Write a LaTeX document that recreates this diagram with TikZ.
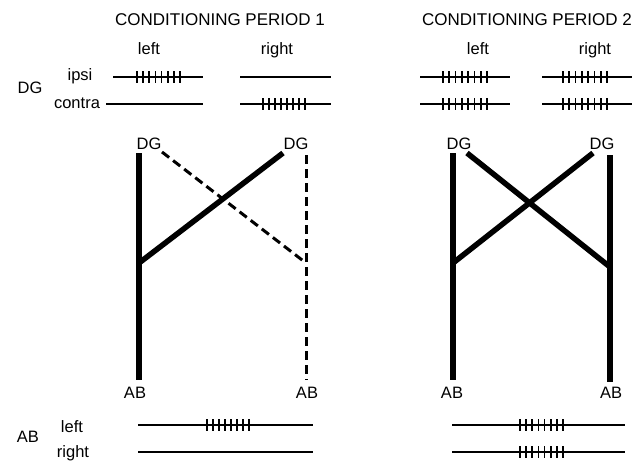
\documentclass[tikz,border=0pt]{standalone}
\usepackage{fontspec}
\setmainfont{Liberation Sans}
\begin{document}
\begin{tikzpicture}[x=1pt,y=-1pt,
  lbl/.style={inner sep=0pt,font=\fontsize{16.5}{18}\selectfont},
  ttl/.style={inner sep=0pt,font=\fontsize{17}{19}\selectfont},
  trace/.style={line width=1.2pt},
  tickline/.style={line width=1.6pt},
  thickpath/.style={line width=5.5pt},
  dashpath/.style={line width=3pt,dash pattern=on 9pt off 5pt}]
\useasboundingbox (0,0) rectangle (643,463);
% titles
\node[ttl] (t1) at (220,20) {CONDITIONING PERIOD 1};
\node[ttl] (t2) at (527,20) {CONDITIONING PERIOD 2};
\node[lbl] (h1l) at (149,49) {left};
\node[lbl] (h1r) at (277,50) {right};
\node[lbl] (h2l) at (478,49) {left};
\node[lbl] (h2r) at (595,50) {right};
% DG row labels
\node[lbl] (dg) at (30,88) {DG};
\node[lbl] (ipsi) at (80,76) {ipsi};
\node[lbl] (contra) at (77,103) {contra};
% AB row labels
\node[lbl] (ab) at (28,437) {AB};
\node[lbl] (abl) at (72,427) {left};
\node[lbl] (abr) at (73,453) {right};
% spike trains (DG)
\newcommand{\spikes}[3]{% x start, x end, y
  \foreach \k in {0,...,7} {\draw[tickline] ({#1+\k*(#2-#1)/7},#3-6) -- ({#1+\k*(#2-#1)/7},#3+6);}}
\draw[trace] (113,77) -- (203,77); \spikes{137}{180}{77}
\draw[trace] (106,104) -- (203,104);
\draw[trace] (240,77) -- (331,77);
\draw[trace] (240,104) -- (331,104); \spikes{263}{305}{104}
\draw[trace] (420,77) -- (510,77); \spikes{443}{487}{77}
\draw[trace] (542,77) -- (632,77); \spikes{563}{607}{77}
\draw[trace] (420,104) -- (510,104); \spikes{443}{487}{104}
\draw[trace] (542,104) -- (632,104); \spikes{563}{607}{104}
% spike trains (AB)
\draw[trace] (138,425) -- (313,425); \spikes{207}{249}{425}
\draw[trace] (138,452) -- (313,452);
\draw[trace] (452,425) -- (625,425); \spikes{520}{563}{425}
\draw[trace] (452,452) -- (625,452); \spikes{520}{563}{452}
% panel 1 circuit
\node[lbl] (dg1l) at (149,144) {DG};
\node[lbl] (dg1r) at (296,144) {DG};
\node[lbl] (ab1l) at (135,393) {AB};
\node[lbl] (ab1r) at (307,393) {AB};
\coordinate (p1lt) at (139,153);
\coordinate (p1lj) at (139,263);
\coordinate (p1lb) at (139,380);
\coordinate (p1rt) at (306,155);
\coordinate (p1rj) at (306,263);
\coordinate (p1rb) at (306,380);
\coordinate (p1xa) at (283,153);
\coordinate (p1xb) at (162,152);
\draw[thickpath] (p1lt) -- (p1lb);
\draw[thickpath] (p1lj) -- (p1xa);
\draw[dashpath] (p1rt) -- (p1rb);
\draw[dashpath] (p1xb) -- (p1rj);
% panel 2 circuit
\node[lbl] (dg2l) at (459,144) {DG};
\node[lbl] (dg2r) at (602,144) {DG};
\node[lbl] (ab2l) at (452,393) {AB};
\node[lbl] (ab2r) at (611,393) {AB};
\coordinate (p2lt) at (453,153);
\coordinate (p2lj) at (453,263);
\coordinate (p2lb) at (453,380);
\coordinate (p2rt) at (610,155);
\coordinate (p2rj) at (610,267);
\coordinate (p2rb) at (610,382);
\coordinate (p2xa) at (593,153);
\coordinate (p2xb) at (467,153);
\draw[thickpath] (p2lt) -- (p2lb);
\draw[thickpath] (p2rt) -- (p2rb);
\draw[thickpath] (p2lj) -- (p2xa);
\draw[thickpath] (p2xb) -- (p2rj);
\end{tikzpicture}
\end{document}
